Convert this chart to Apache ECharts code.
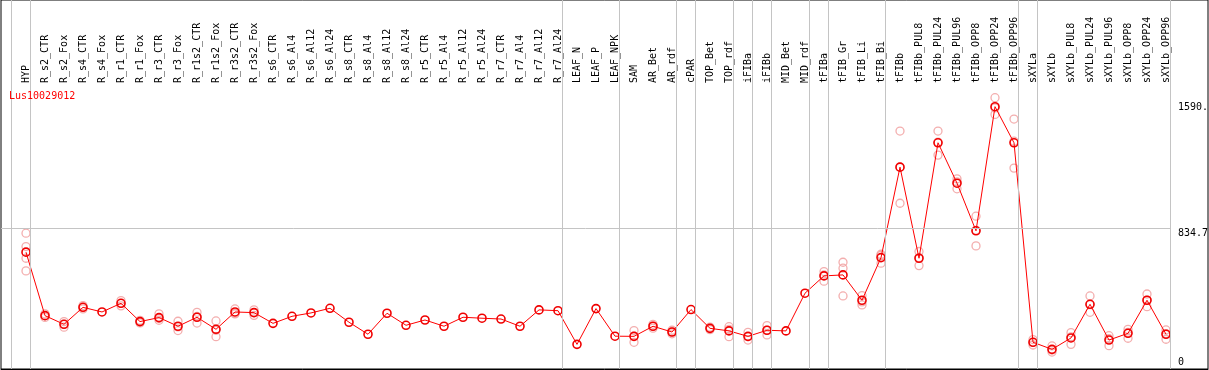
<!DOCTYPE html>
<html>
<head>
<meta charset="utf-8">
<script src="https://cdn.jsdelivr.net/npm/echarts@6/dist/echarts.min.js"></script>
<style>
html,body{margin:0;padding:0;background:#fff;}
#chart{width:1209px;height:370px;}
</style>
</head>
<body>
<div id="chart"></div>
<script>
const categories = ["HYP","R_s2_CTR","R_s2_Fox","R_s4_CTR","R_s4_Fox","R_r1_CTR","R_r1_Fox","R_r3_CTR","R_r3_Fox","R_r1s2_CTR","R_r1s2_Fox","R_r3s2_CTR","R_r3s2_Fox","R_s6_CTR","R_s6_Al4","R_s6_Al12","R_s6_Al24","R_s8_CTR","R_s8_Al4","R_s8_Al12","R_s8_Al24","R_r5_CTR","R_r5_Al4","R_r5_Al12","R_r5_Al24","R_r7_CTR","R_r7_Al4","R_r7_Al12","R_r7_Al24","LEAF_N","LEAF_P","LEAF_NPK","SAM","AR_Bet","AR_rdf","cPAR","TOP_Bet","TOP_rdf","iFIBa","iFIBb","MID_Bet","MID_rdf","tFIBa","tFIB_Gr","tFIB_Li","tFIB_Bi","tFIBb","tFIBb_PUL8","tFIBb_PUL24","tFIBb_PUL96","tFIBb_OPP8","tFIBb_OPP24","tFIBb_OPP96","sXYLa","sXYLb","sXYLb_PUL8","sXYLb_PUL24","sXYLb_PUL96","sXYLb_OPP8","sXYLb_OPP24","sXYLb_OPP96"];

const means = [685,289,235,341,312,366,252,277,223,279,204,312,308,241,285,306,335,248,173,304,229,262,223,279,273,268,223,325,320,110,333,161,160,223,187,327,210,194,160,198,194,429,537,543,385,651,1215,647,1367,1115,818,1592,1367,123,79,150,360,137,179,385,173];

const replicates = [
  [803,720,647,568],[300,289,278],[252,236,217],[352,341,331],[],[383,366,350],[260,252,244],[300,271,260],[254,219,196],[310,284,243],[256,198,158],[331,305,300],[325,308,291],
  [],[],[],[],[],[],[],[],[],[],[],[],[],[],[],[],
  [],[],[],
  [196,161,123],[235,223,211],[198,187,176],[],[218,210,202],[220,204,158],[185,158,137],[227,198,169],[],[],
  [564,543,504],[622,585,412],[414,375,356],[672,665,616],
  [1440,1215,990],[689,651,601],[1440,1371,1290],[1142,1123,1080],[909,821,724],[1648,1584,1544],[1515,1377,1209],
  [140,123,106],[100,75,62],[183,157,110],[412,358,310],[164,145,102],[204,185,148],[424,386,345],[200,177,142]
];

const title = "Lus10029012";
const yTickValues = [0, 834.7, 1590];
const yTickLabels = ["0", "834.7", "1590."];
const gridLineValues = [834.7];
// category boundaries where grey separators are drawn
const separators = [0,1,29,32,35,36,38,39,40,42,43,46,53,54,61];

// layout constants
const SEP_OFF = -15/19;
const xMin = (1-26)/19, xMax = (1208-26)/19;
const yMin = -43.6, yMax = 2257.2;
const sepEnd = separators[separators.length-1] + SEP_OFF;
const FONT = "DejaVu Sans Mono";

const repData = [];
replicates.forEach((arr, i) => arr.forEach(v => repData.push([i, v])));
const meanData = means.map((v, i) => [i, v]);

const chart = echarts.init(document.getElementById('chart'), null, {renderer:'canvas'});
chart.setOption({
  animation: false,
  backgroundColor: '#fff',
  title: {
    text: title, left: 9, top: 91, padding: 0,
    textStyle: {color:'#ff0000', fontSize: 10, fontWeight:'normal', fontFamily: FONT}
  },
  grid: [
    {left:1, right:1, top:0, bottom:1, show:true, borderColor:'#000', borderWidth:1, backgroundColor:'#fff'},
    {left:1, right:1, top:85, bottom:1, show:false}
  ],
  xAxis: [
    {gridIndex:0, type:'value', min:xMin, max:xMax, show:false},
    {gridIndex:1, type:'value', min:xMin, max:xMax, position:'top',
     axisLine:{show:true, lineStyle:{color:'#000', width:1}},
     axisTick:{show:false}, splitLine:{show:false},
     axisLabel:{
       customValues: categories.map((_, i) => i),
       formatter: v => categories[Math.round(v)],
       rotate: 90, margin: 2, fontSize: 10, fontFamily: FONT, color:'#000',
       showMinLabel: true, showMaxLabel: true, hideOverlap: false
     }}
  ],
  yAxis: [
    {gridIndex:0, type:'value', min:yMin, max:yMax, show:false},
    {gridIndex:1, type:'value', min:0, max:1, show:false}
  ],
  series: [
    {
      type:'scatter', xAxisIndex:0, yAxisIndex:0, data: repData,
      symbol:'circle', symbolSize: 8, silent: true,
      itemStyle:{color:'rgba(0,0,0,0)', borderColor:'#f09a9a', borderWidth:1.3},
      markLine: {
        silent: true, symbol:['none','none'], animation:false,
        lineStyle:{color:'#c4c4c4', width:1, type:'solid'},
        label:{show:false},
        data: separators.map(s => ({xAxis: s + SEP_OFF}))
      }
    },
    {
      type:'line', xAxisIndex:0, yAxisIndex:0, data: meanData,
      symbol:'circle', symbolSize: 8, silent: true,
      lineStyle:{color:'#ff0000', width:1},
      itemStyle:{color:'rgba(0,0,0,0)', borderColor:'#f00000', borderWidth:1.6},
      markLine: {
        silent: true, symbol:['none','none'], animation:false,
        data: yTickValues.map((v, k) => {
          const isGrid = gridLineValues.includes(v);
          return [
            {coord:[xMin, v],
             lineStyle: isGrid ? {color:'#c4c4c4', width:1, type:'solid'} : {color:'rgba(255,255,255,0)', width:1},
             label:{show:true, position:'end', distance: 8, formatter: yTickLabels[k],
                    color:'#000', fontSize:10, fontFamily: FONT,
                    verticalAlign: isGrid ? 'top' : 'middle'}},
            {coord:[sepEnd, v]}
          ];
        })
      }
    }
  ]
});
</script>
</body>
</html>
